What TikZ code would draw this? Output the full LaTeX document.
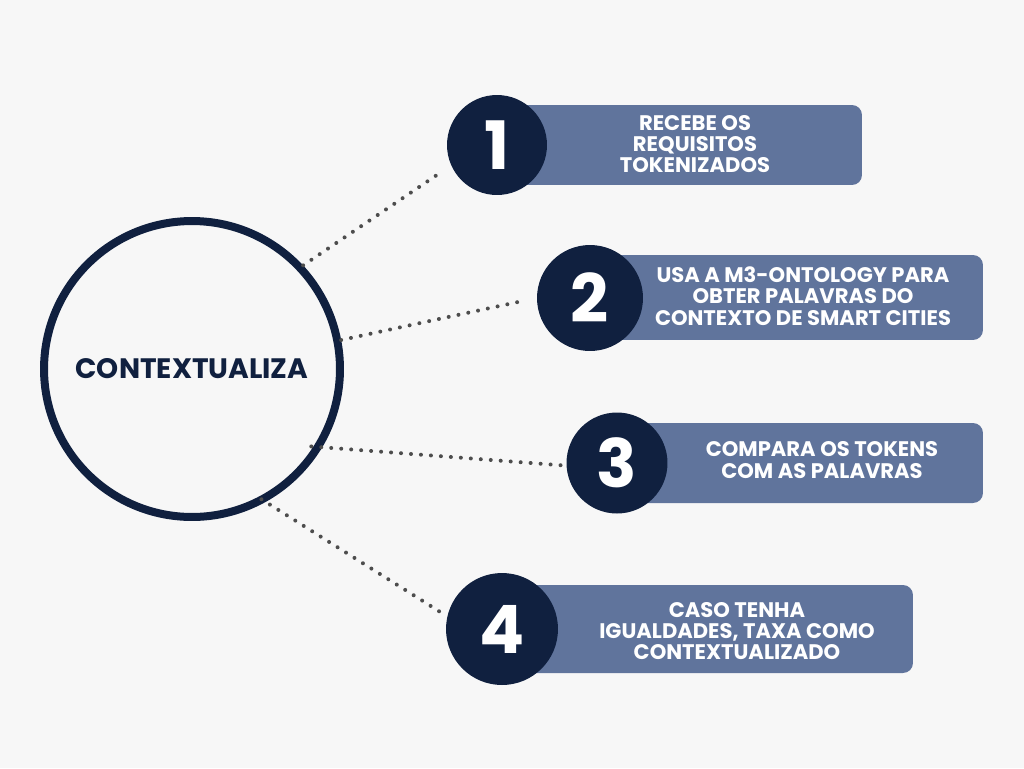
\documentclass[tikz,border=0pt]{standalone}
\usepackage{fontspec}
\setmainfont{Poppins}
\usepackage{tikz}
\usetikzlibrary{shapes,arrows}

\definecolor{navy}{HTML}{10203F}
\definecolor{slate}{HTML}{60749C}
\definecolor{bgcol}{HTML}{F7F7F7}
\definecolor{dotcol}{HTML}{4D4D4D}

\begin{document}
\begin{tikzpicture}
		[
		x = 0.02cm, y = -0.02cm,
		hub/.style = {circle, draw = navy, line width = 0.16cm, fill = bgcol, minimum size = 5.92cm, font = \bfseries\fontsize{16}{18}\selectfont, text = navy},
		num/.style = {circle, fill = navy, text = white, font = \bfseries\fontsize{38}{40}\selectfont, inner sep = 0pt},
		stepbox/.style = {rectangle, rounded corners = 0.2cm, fill = slate, minimum height = 1.6cm},
		steptext/.style = {text = white, align = center, font = \bfseries\fontsize{12}{12.2}\selectfont, inner sep = 0pt},
		link/.style = {draw = dotcol, line width = 0.08cm, line cap = round, dash pattern = on 0pt off 0.2cm}
		]
		
		\fill [bgcol] (0,0) rectangle (1024,768);
		\useasboundingbox (0,0) rectangle (1024,768);
		
		\node [stepbox, minimum width = 7.3cm] (b1) at (679.5,145) {};
		\node [stepbox, minimum width = 7.86cm, minimum height = 1.7cm] (b2) at (786.5,297.5) {};
		\node [stepbox, minimum width = 7.32cm] (b3) at (800,463) {};
		\node [stepbox, minimum width = 8.22cm, minimum height = 1.76cm] (b4) at (707.5,629) {};
		
		\node [steptext] (t1) at (695,144) {RECEBE OS\\REQUISITOS\\TOKENIZADOS};
		\node [steptext] (t2) at (803,296) {USA A M3-ONTOLOGY PARA\\OBTER PALAVRAS DO\\CONTEXTO DE SMART CITIES};
		\node [steptext] (t3) at (822,460) {COMPARA OS TOKENS\\COM AS PALAVRAS};
		\node [steptext] (t4) at (737,631) {CASO TENHA\\IGUALDADES, TAXA COMO\\CONTEXTUALIZADO};
		
		\node [num, minimum size = 2cm] (n1) at (497,145) {1};
		\node [num, minimum size = 2.12cm] (n2) at (590,298) {2};
		\node [num, minimum size = 2.02cm] (n3) at (617,463) {3};
		\node [num, minimum size = 2.24cm] (n4) at (502,629) {4};
		
		\node [hub] (ctx) at (192,369) {CONTEXTUALIZA};
		
		\draw [link, shorten > = 0.24cm] (ctx.43) -- (n1.204);
		\draw [link, shorten > = 0.26cm] (ctx.11) -- (n2.180);
		\draw [link, shorten < = -0.22cm, shorten > = 0.08cm] (ctx.-31) -- (n3.183);
		\draw [link, shorten < = -0.1cm, shorten > = 0.16cm] (ctx.-61.5) -- (n4.167);
		
\end{tikzpicture}
\end{document}
